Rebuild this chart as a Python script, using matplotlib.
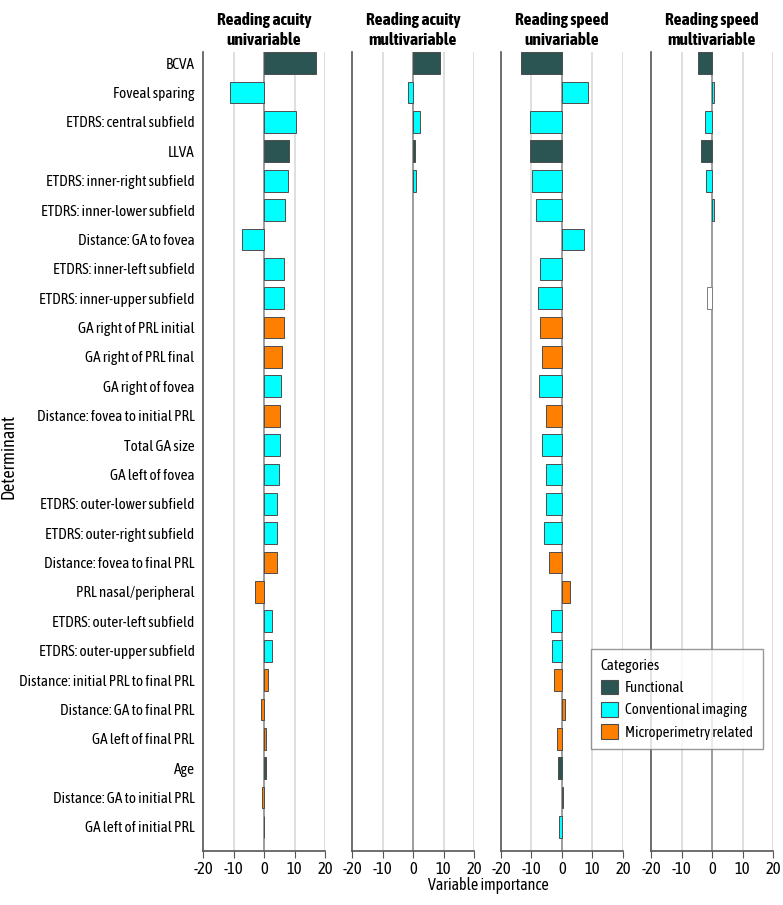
import matplotlib
matplotlib.use("Agg")
import matplotlib.pyplot as plt
from matplotlib.patches import Patch

plt.rcParams['font.family'] = ['Asap Condensed', 'DejaVu Sans']

# ----------------- Data -----------------
determinants = [
    "BCVA", "Foveal sparing", "ETDRS: central subfield", "LLVA",
    "ETDRS: inner-right subfield", "ETDRS: inner-lower subfield",
    "Distance: GA to fovea", "ETDRS: inner-left subfield",
    "ETDRS: inner-upper subfield", "GA right of PRL initial",
    "GA right of PRL final", "GA right of fovea",
    "Distance: fovea to initial PRL", "Total GA size", "GA left of fovea",
    "ETDRS: outer-lower subfield", "ETDRS: outer-right subfield",
    "Distance: fovea to final PRL", "PRL nasal/peripheral",
    "ETDRS: outer-left subfield", "ETDRS: outer-upper subfield",
    "Distance: initial PRL to final PRL", "Distance: GA to final PRL",
    "GA left of final PRL", "Age", "Distance: GA to initial PRL",
    "GA left of initial PRL",
]

# F = functional, C = conventional imaging, M = microperimetry related
categories = ["F", "C", "C", "F", "C", "C", "C", "C", "C", "M", "M", "C", "M",
              "C", "C", "C", "C", "M", "M", "C", "C", "M", "M", "M", "F", "M", "M"]

acuity_uni = [17.0, -11.1, 10.6, 8.1, 8.0, 6.9, -7.1, 6.5, 6.4, 6.4, 5.8, 5.6, 5.4,
              5.1, 4.8, 4.4, 4.2, 4.2, -3.1, 2.7, 2.6, 1.4, -0.9, 0.5, 0.5, -0.5, 0.1]
acuity_multi = [9.0, -1.8, 2.4, 0.5, 0.9, 0, 0, 0, 0, 0, 0, 0, 0,
                0, 0, 0, 0, 0, 0, 0, 0, 0, 0, 0, 0, 0, 0]
speed_uni = [-13.3, 8.6, -10.6, -10.4, -9.7, -8.4, 7.2, -7.3, -8.0, -7.1, -6.4, -7.4, -5.1,
             -6.4, -5.4, -5.3, -5.8, -4.1, 2.6, -3.5, -3.3, -2.7, 0.9, -1.5, -1.3, 0.4, -0.9]
speed_multi = [-4.6, 0.6, -2.4, -3.5, -2.0, 0.6, 0, 0, -1.6, 0, 0, 0, 0,
               0, 0, 0, 0, 0, 0, 0, 0, 0, 0, 0, 0, 0, 0]

# category lists as coloured in the original panels
speed_uni_cats = categories[:25] + ["C", "C"]
speed_multi_cats = categories[:8] + ["W"] + categories[9:]

panel_titles = ["Reading acuity\nunivariable", "Reading acuity\nmultivariable",
                "Reading speed\nunivariable", "Reading speed\nmultivariable"]
panel_values = [acuity_uni, acuity_multi, speed_uni, speed_multi]
panel_cats = [categories, categories, speed_uni_cats, speed_multi_cats]

legend_labels = ["Functional", "Conventional imaging", "Microperimetry related"]
xticks = [-20, -10, 0, 10, 20]

cat_colors = {"F": "#2b5552", "C": "#00ffff", "M": "#ff8000", "W": "#ffffff"}

# ----------------- Plot -----------------
fig = plt.figure(figsize=(7.83, 9.05), dpi=100)

lefts = [203, 352, 501, 651]
pw = 122
bottom = 1 - 851 / 905
top = 1 - 52 / 905
n = len(determinants)

for i, (title, vals, cats) in enumerate(zip(panel_titles, panel_values, panel_cats)):
    ax = fig.add_axes([lefts[i] / 783, bottom, pw / 783, top - bottom])
    for x in [-10, 10, 20]:
        ax.axvline(x, color="#d9d9d9", lw=1.2, zorder=0)
    ax.axvline(0, color="#8c8c8c", lw=1.2, zorder=1)
    for y, (v, c) in enumerate(zip(vals, cats)):
        if v == 0:
            continue
        ec = "#7f7f7f" if c == "W" else "#4d4d4d"
        ax.barh(y, v, height=0.74, color=cat_colors[c], edgecolor=ec,
                linewidth=0.7, zorder=2)
    ax.set_xlim(-20, 20)
    ax.set_ylim(n - 1 + 0.82, -0.38)
    ax.set_xticks(xticks)
    ax.set_xticklabels([str(t) for t in xticks], fontsize=12)
    ax.tick_params(axis="x", length=5, color="#555555", pad=2)
    ax.spines["top"].set_visible(False)
    ax.spines["right"].set_visible(False)
    ax.spines["left"].set_color("#555555")
    ax.spines["bottom"].set_color("#555555")
    ax.spines["left"].set_linewidth(1.2)
    ax.spines["bottom"].set_linewidth(1.2)
    ax.set_title(title, fontsize=12.5, fontweight="bold", pad=5, linespacing=1.3)
    if i == 0:
        ax.set_yticks(range(n))
        ax.set_yticklabels(determinants, fontsize=11)
        ax.tick_params(axis="y", length=0, pad=6)
    else:
        ax.set_yticks([])

fig.text(9 / 783, 1 - 456 / 905, "Determinant", rotation=90, ha="center",
         va="center", fontsize=13)
fig.text(488 / 783, 1 - 885 / 905, "Variable importance", ha="center",
         va="center", fontsize=11.5)

handles = [Patch(facecolor=cat_colors[k], edgecolor="#4d4d4d", linewidth=0.8)
           for k in ["F", "C", "M"]]
leg = fig.legend(handles, legend_labels, title="Categories",
                 loc="upper left", bbox_to_anchor=(591 / 783, 1 - 649 / 905),
                 borderaxespad=0, fontsize=10.8, title_fontsize=11, frameon=True,
                 fancybox=False, edgecolor="#7f7f7f", alignment="left",
                 handlelength=1.15, handleheight=1.15, handletextpad=0.45,
                 labelspacing=0.45, borderpad=0.65)
leg.get_frame().set_linewidth(1.0)

fig.savefig("out.png", dpi=100)
